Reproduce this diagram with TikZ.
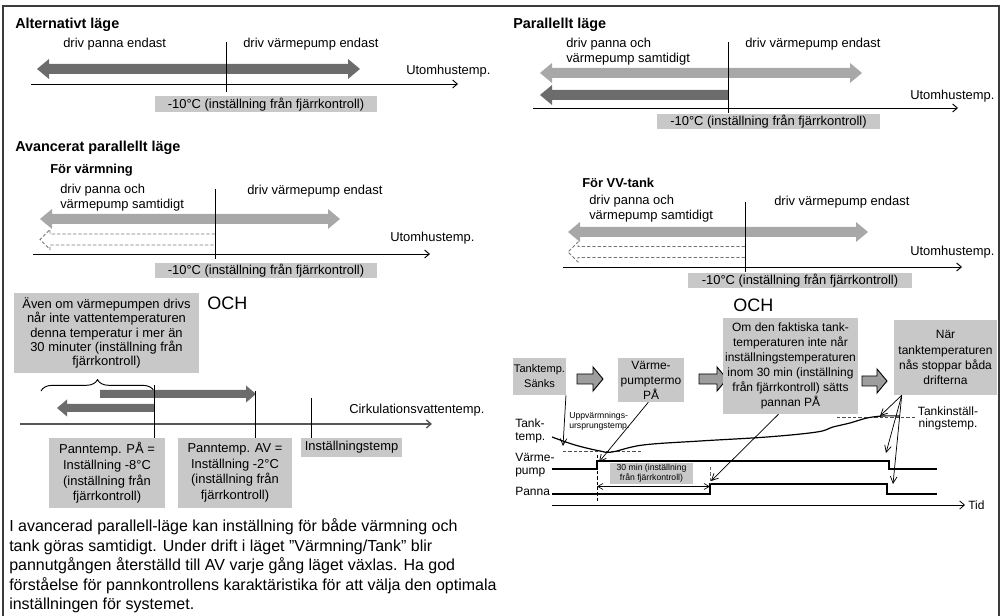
\documentclass[tikz,border=0pt]{standalone}
\usepackage{fontspec}
\setmainfont{Liberation Sans}
\usetikzlibrary{arrows.meta,decorations.pathreplacing}

\definecolor{barDark}{RGB}{108,108,108}
\definecolor{barLight}{RGB}{168,168,168}
\definecolor{boxGray}{RGB}{200,200,200}
\definecolor{blockGray}{RGB}{158,158,158}
\definecolor{frameGray}{RGB}{60,60,60}
\definecolor{dashGray}{RGB}{120,120,120}

\newcommand{\LblFont}{\fontsize{9.7}{11.25}\selectfont}
\newcommand{\TtlFont}{\fontsize{10.8}{13}\selectfont\bfseries}
\newcommand{\SubFont}{\fontsize{9.7}{11.25}\selectfont\bfseries}
\newcommand{\NoteFont}{\fontsize{9.7}{10.6}\selectfont}
\newcommand{\PannFont}{\fontsize{9.7}{11.8}\selectfont}
\newcommand{\StepFont}{\fontsize{9}{11.3}\selectfont}
\newcommand{\SmallStepFont}{\fontsize{8.3}{11.3}\selectfont}
\newcommand{\SigFont}{\fontsize{9}{9.3}\selectfont}
\newcommand{\TinyFont}{\fontsize{6.5}{7.4}\selectfont}
\newcommand{\BodyFont}{\fontsize{12}{14.6}\selectfont}
\newcommand{\OchFont}{\fontsize{13.5}{15}\selectfont}

% thick double-headed bar: style, left tip x, right tip x, y, half shaft, half head, head length
\newcommand{\FatDouble}[7]{%
  \path[#1] (#2,#4) -- ({#2+#7},{#4-#6}) -- ({#2+#7},{#4-#5}) -- ({#3-#7},{#4-#5})
    -- ({#3-#7},{#4-#6}) -- (#3,#4) -- ({#3-#7},{#4+#6}) -- ({#3-#7},{#4+#5})
    -- ({#2+#7},{#4+#5}) -- ({#2+#7},{#4+#6}) -- cycle;}
% thick bar pointing left: style, tip x, tail x, y, half shaft, half head, head length
\newcommand{\FatLeft}[7]{%
  \path[#1] (#2,#4) -- ({#2+#7},{#4-#6}) -- ({#2+#7},{#4-#5}) -- (#3,{#4-#5})
    -- (#3,{#4+#5}) -- ({#2+#7},{#4+#5}) -- ({#2+#7},{#4+#6}) -- cycle;}
% thick bar pointing right: style, tail x, tip x, y, half shaft, half head, head length
\newcommand{\FatRight}[7]{%
  \path[#1] (#2,{#4-#5}) -- ({#3-#7},{#4-#5}) -- ({#3-#7},{#4-#6}) -- (#3,#4)
    -- ({#3-#7},{#4+#6}) -- ({#3-#7},{#4+#5}) -- (#2,{#4+#5}) -- cycle;}
% dashed outline of a left bar, open at its tail: tip x, tail x, y, half shaft, half head, head length
\newcommand{\DashLeft}[6]{%
  \draw[dashbar] (#2,{#3-#4}) -- ({#1+#6},{#3-#4}) -- ({#1+#6},{#3-#5}) -- (#1,#3)
    -- ({#1+#6},{#3+#5}) -- ({#1+#6},{#3+#4}) -- (#2,{#3+#4});}

\begin{document}
\begin{tikzpicture}[x=0.75pt,y=-0.75pt,
  lbl/.style={font=\LblFont, inner sep=0pt, anchor=west},
  ttl/.style={font=\TtlFont, inner sep=0pt, anchor=west},
  sub/.style={font=\SubFont, inner sep=0pt, anchor=west},
  och/.style={font=\OchFont, inner sep=0pt, anchor=west},
  graybox/.style={fill=boxGray, inner sep=1pt, font=\LblFont, align=center},
  axis/.style={-{Straight Barb[length=3.5pt,width=6pt]}, line width=0.7pt},
  thr/.style={line width=0.7pt},
  dashbar/.style={draw=dashGray, dash pattern=on 2.5pt off 1.5pt, line width=0.6pt},
  blockarrow/.style={fill=blockGray, draw=black, line width=0.7pt},
  sig/.style={line width=1.1pt},
  pointer/.style={-{Straight Barb[length=5pt,width=5pt]}, line width=0.55pt},
  brace/.style={decorate, decoration={brace, amplitude=8.5pt}, line width=0.7pt},
  frame/.style={draw=frameGray, line width=1.1pt}]
\useasboundingbox (0,0) rectangle (1001,616);

% outer frame
\coordinate (fBL) at (3,616); \coordinate (fTL) at (3,6);
\coordinate (fTR) at (999,6); \coordinate (fBR) at (999,616);
\draw[frame] (fBL) -- (fTL) -- (fTR) -- (fBR);

% ---------- Alternativt läge ----------
\node[ttl] (t1) at (15,25) {Alternativt läge};
\node[lbl] (l1a) at (63,44) {driv panna endast};
\node[lbl] (l1b) at (243,44) {driv värmepump endast};
\FatDouble{fill=barDark}{37}{360}{69}{5}{10}{12}
\node[lbl] (u1) at (406,71) {Utomhustemp.};
\coordinate (a1s) at (31,84); \coordinate (a1e) at (458,84);
\draw[axis] (a1s) -- (a1e);
\node[graybox, minimum width=166.5pt, minimum height=12pt] (g1) at (266,104.5) {-10°C (inställning från fjärrkontroll)};
\coordinate (v1t) at (226,42); \coordinate (v1b) at (226,92);
\draw[thr] (v1t) -- (v1b);

% ---------- Parallellt läge ----------
\node[ttl] (t2) at (513,25) {Parallellt läge};
\node[lbl, align=left] (l2a) at (566,51.5) {driv panna och\\värmepump samtidigt};
\node[lbl] (l2b) at (745,44) {driv värmepump endast};
\FatDouble{fill=barLight}{540}{862}{73}{5}{10}{12}
\FatLeft{fill=barDark}{540}{728}{95}{5}{10}{12}
\node[lbl] (u2) at (910,96) {Utomhustemp.};
\coordinate (a2s) at (533,108); \coordinate (a2e) at (958,108);
\draw[axis] (a2s) -- (a2e);
\node[graybox, minimum width=167.25pt, minimum height=11.25pt] (g2) at (768.5,121.5) {-10°C (inställning från fjärrkontroll)};
\coordinate (v2t) at (728,42);
\draw[thr] (v2t) -- (v2t |- g2.north);

% ---------- Avancerat parallellt läge: för värmning ----------
\node[ttl] (t3) at (15,148) {Avancerat parallellt läge};
\node[sub] (s3) at (50,170) {För värmning};
\node[lbl, align=left] (l3a) at (60,198) {driv panna och\\värmepump samtidigt};
\node[lbl] (l3b) at (247,191) {driv värmepump endast};
\FatDouble{fill=barLight}{40}{340}{219}{5}{10}{12}
\DashLeft{40}{215}{239.5}{5.5}{10}{10}
\node[lbl] (u3) at (390,238) {Utomhustemp.};
\coordinate (a3s) at (33,254); \coordinate (a3e) at (430,254);
\draw[axis] (a3s) -- (a3e);
\node[graybox, minimum width=166.5pt, minimum height=11.25pt] (g3) at (266,270.5) {-10°C (inställning från fjärrkontroll)};
\coordinate (v3t) at (215,189); \coordinate (v3b) at (215,259);
\draw[thr] (v3t) -- (v3b);

% ---------- för VV-tank ----------
\node[sub] (s4) at (582,183) {För VV-tank};
\node[lbl, align=left] (l4a) at (589,208.5) {driv panna och\\värmepump samtidigt};
\node[lbl] (l4b) at (774,202) {driv värmepump endast};
\FatDouble{fill=barLight}{568}{868}{232}{5}{10}{12}
\DashLeft{568}{745}{252}{5.5}{10}{10}
\node[lbl] (u4) at (910,252) {Utomhustemp.};
\coordinate (a4s) at (563,267); \coordinate (a4e) at (962,267);
\draw[axis] (a4s) -- (a4e);
\node[graybox, minimum width=168pt, minimum height=11.25pt] (g4) at (800,280.5) {-10°C (inställning från fjärrkontroll)};
\coordinate (v4t) at (745,202);
\draw[thr] (v4t) -- (v4t |- g4.north);

% ---------- circulation water temperature ----------
\node[graybox, font=\NoteFont, minimum width=138.75pt, minimum height=60pt] (n5) at (106.5,333)
  {Även om värmepumpen drivs\\når inte vattentemperaturen\\denna temperatur i mer än\\30 minuter (inställning från\\fjärrkontroll)};
\node[och] (och1) at (207,303) {OCH};
\coordinate (brL) at (41,391); \coordinate (brR) at (154,391);
\draw[brace] (brL) -- (brR);
\FatRight{fill=barDark}{100}{256}{394}{4}{8.5}{10}
\FatLeft{fill=barDark}{57}{154}{408}{4}{8.5}{10}
\coordinate (a5s) at (20,424); \coordinate (a5e) at (432,424);
\draw[axis, draw=barDark!80!black, line width=1pt] (a5s) -- (a5e);
\node[lbl] (c5) at (349,410) {Cirkulationsvattentemp.};
\node[graybox, font=\PannFont, minimum width=87pt, minimum height=52.5pt] (p1) at (107,473)
  {Panntemp. PÅ =\\Inställning -8°C\\(inställning från\\fjärrkontroll)};
\node[graybox, font=\PannFont, minimum width=85.5pt, minimum height=52.5pt] (p2) at (235,473)
  {Panntemp. AV =\\Inställning -2°C\\(inställning från\\fjärrkontroll)};
\node[graybox, minimum width=75.75pt, minimum height=14.25pt] (p3) at (351.5,447.5) {Inställningstemp};
\coordinate (m1) at (154,385); \coordinate (m2) at (255,391); \coordinate (m3) at (311,398);
\draw[thr] (m1) -- (m1 |- p1.north);
\draw[thr] (m2) -- (m2 |- p2.north);
\draw[thr] (m3) -- (m3 |- p3.north);

\node[font=\BodyFont, inner sep=0pt, anchor=west, align=left] (para) at (9,566)
  {I avancerad parallell-läge kan inställning för både värmning och\\
   tank göras samtidigt. Under drift i läget ”Värmning/Tank” blir\\
   pannutgången återställd till AV varje gång läget växlas. Ha god\\
   förståelse för pannkontrollens karaktäristika för att välja den optimala\\
   inställningen för systemet.};

% ---------- tank sequence ----------
\node[och] (och2) at (733,305) {OCH};
\node[graybox, font=\SmallStepFont, inner xsep=0.5pt, minimum width=36.75pt, minimum height=27.75pt] (q1) at (539.5,376.5) {Tanktemp.\\Sänks};
\FatRight{blockarrow}{577}{603}{379}{5}{12}{10}
\node[graybox, font=\StepFont, minimum width=49.5pt, minimum height=33pt] (q2) at (651,380) {Värme-\\pumptermo\\PÅ};
\FatRight{blockarrow}{699}{727}{379}{5}{12}{10}
\node[graybox, font=\StepFont, minimum width=101.25pt, minimum height=72pt] (q3) at (790.5,366)
  {Om den faktiska tank-\\temperaturen inte når\\inställningstemperaturen\\inom 30 min (inställning\\från fjärrkontroll) sätts\\pannan PÅ};
\FatRight{blockarrow}{862}{887}{381}{5}{12}{10}
\node[graybox, font=\StepFont, minimum width=77.25pt, minimum height=56.25pt] (q4) at (945.5,357.5)
  {När\\tanktemperaturen\\nås stoppar båda\\drifterna};

% timing chart labels
\node[font=\SigFont, inner sep=0pt, anchor=west, align=left] (tk) at (515,431) {Tank-\\temp.};
\node[font=\SigFont, inner sep=0pt, anchor=west, align=left] (vp) at (515,465) {Värme-\\pump};
\node[font=\SigFont, inner sep=0pt, anchor=west] (pn) at (515,491) {Panna};
\node[font=\TinyFont, inner sep=0pt, anchor=west, align=left] (up) at (569,421.5) {Uppvärmnings-\\ursprungstemp.};
\node[font=\SigFont, inner sep=0pt, align=center] (ti) at (948,418.5) {Tankinställ-\\ningstemp.};
\node[font=\SigFont, inner sep=0pt, anchor=west] (tid) at (968,505) {Tid};

% reference levels
\coordinate (lowA) at (563,451); \coordinate (lowB) at (642,451);
\draw[dashbar, draw=black!70] (lowA) -- (lowB);
\coordinate (setA) at (837,417); \coordinate (setB) at (915,417);
\draw[dashbar, draw=black!70] (setA) -- (setB);

% tank temperature curve
\draw[line width=0.9pt] plot[smooth, tension=0.6] coordinates {(552,437) (575,445) (600,451) (612,452) (643,445) (700,441) (767,437) (817,432) (833,427) (850,423) (867,418) (883,416) (900,416)};

% heat pump and boiler signals, time axis
\coordinate (hpA) at (552,469); \coordinate (hpOn) at (597,461); \coordinate (hpOff) at (889,461); \coordinate (hpB) at (937,469);
\draw[sig] (hpA) -- (hpA -| hpOn) -- (hpOn) -- (hpOff) -- (hpOff |- hpB) -- (hpB);
\coordinate (bA) at (552,494); \coordinate (bOn) at (710,484); \coordinate (bOff) at (887,484); \coordinate (bB) at (937,494);
\draw[sig] (bA) -- (bA -| bOn) -- (bOn) -- (bOff) -- (bOff |- bB) -- (bB);
\coordinate (tA) at (552,505); \coordinate (tB) at (965,505);
\draw[axis, line width=0.6pt] (tA) -- (tB);
\coordinate (dA) at (597,455); \coordinate (dB) at (597,503);
\draw[dashbar, draw=black] (dA) -- (dB);
\coordinate (eA) at (710,467); \coordinate (eB) at (710,484);
\draw[dashbar, draw=black!60] (eA) -- (eB);
\node[graybox, font=\TinyFont, minimum width=62.25pt, minimum height=15pt] (q5) at (651.5,473.5) {30 min (inställning\\från fjärrkontroll)};
\coordinate (wA) at (597,486.5); \coordinate (wB) at (710,486.5);
\draw[{Straight Barb[length=4pt,width=4.5pt]}-{Straight Barb[length=4pt,width=4.5pt]}, line width=0.5pt] (wA) -- (wB);

% pointers from the sequence boxes
\coordinate (pk1) at (563,446);
\draw[pointer] (q1.south east) -- (pk1);
\coordinate (pk2) at (599,462);
\draw[pointer] ([xshift=-2pt]q2.south) -- (pk2);
\coordinate (pk3) at (711,481);
\draw[pointer] ([xshift=-9pt]q3.south) -- (pk3);
\coordinate (pk4) at (880,416); \coordinate (pk5) at (886,453); \coordinate (pk6) at (893,484);
\draw[pointer] ([xshift=6pt]q4.south west) -- (pk4);
\draw[pointer] ([xshift=6pt]q4.south west) -- (pk5);
\draw[pointer] ([xshift=6pt]q4.south west) -- (pk6);
\end{tikzpicture}
\end{document}
